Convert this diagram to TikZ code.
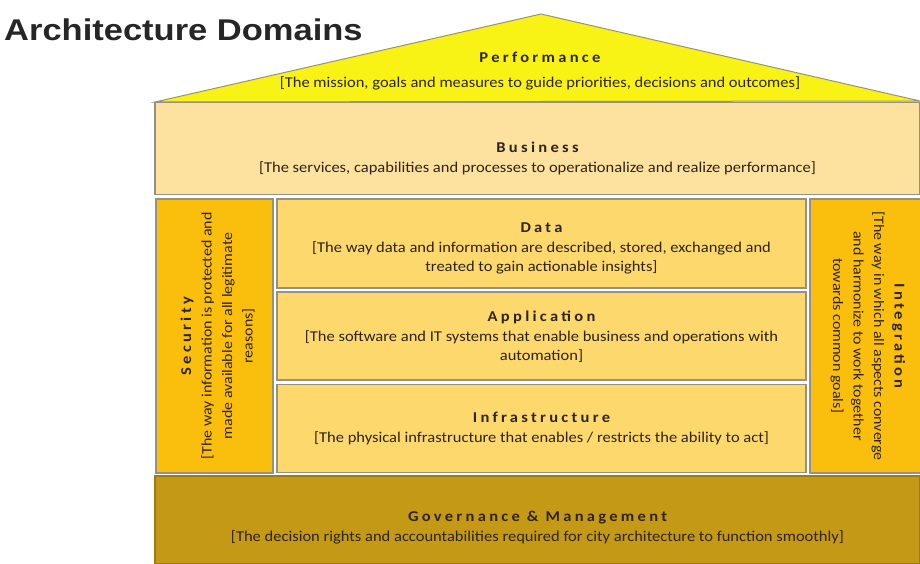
\documentclass[tikz,border=0pt]{standalone}
\usepackage{fontspec}
\setmainfont[FakeStretch=1.1]{Carlito}
\newfontfamily\headfont[FakeStretch=1.15]{Liberation Sans}
\newfontfamily\spacedfont[LetterSpace=22,FakeStretch=1.1]{Carlito}
\newcommand\ttlfont{\spacedfont\bfseries\fontsize{15}{19}\selectfont}
\usetikzlibrary{calc}
\definecolor{roofc}{RGB}{248,243,20}
\definecolor{busc}{RGB}{252,226,158}
\definecolor{midc}{RGB}{253,216,108}
\definecolor{sidec}{RGB}{250,190,12}
\definecolor{govc}{RGB}{196,153,22}
\definecolor{edgec}{RGB}{150,145,130}
\definecolor{inkc}{RGB}{45,35,25}
\tikzset{
  box/.style={rectangle, draw=edgec, line width=1.2pt, inner sep=0pt, outer sep=0pt},
  txt/.style={align=center, text=inkc, font=\fontsize{15}{19}\selectfont, inner sep=0pt},
  rtxt/.style={align=center, text=inkc, font=\fontsize{14.5}{20.5}\selectfont, inner sep=0pt},
}
\begin{document}
\begin{tikzpicture}[x=1pt,y=1pt]
\useasboundingbox (0,0) rectangle (920,-563);
% title
\node[anchor=base west, inner sep=0pt, font=\headfont\bfseries\fontsize{30}{32}\selectfont, text=black!85] (title) at (4,-40) {Architecture Domains};
% roof
\coordinate (rl) at (155,-102);
\coordinate (ra) at (541,-14);
\coordinate (rr) at (920,-101);
\draw[fill=roofc, draw=edgec, line width=1pt] (rl) -- (ra) -- (rr) -- cycle;
\node[txt] (perf) at (540,-71) {{\ttlfont Performance}\\[6pt][The mission, goals and measures to guide priorities, decisions and outcomes]};
% business
\node[box, fill=busc, minimum width=765pt, minimum height=92pt] (business) at (537.5,-148.5) {};
\node[txt] (bustext) at ($(business.center)+(0,-10)$) {{\ttlfont Business}\\[1pt][The services, capabilities and processes to operationalize and realize performance]};
% side columns
\node[box, fill=sidec, minimum width=117pt, minimum height=274pt] (security) at (214.5,-336) {};
\node[rtxt, rotate=90] (sectext) at ($(security.center)+(3,0)$) {{\ttlfont Security}\\[0pt][The way information is protected and\\made available for all legitimate\\reasons]};
\node[box, fill=sidec, minimum width=112pt, minimum height=274pt] (integration) at (866,-336) {};
\node[rtxt, rotate=-90] (inttext) at ($(integration.center)+(2,0)$) {{\ttlfont Integration}\\[0pt][The way in which all aspects converge\\and harmonize to work together\\towards common goals]};
% center stack
\node[box, fill=midc, minimum width=529pt, minimum height=89pt] (data) at (541.5,-243.5) {};
\node[txt] (datatext) at ($(data.center)+(0,-5)$) {{\ttlfont Data}\\[1pt][The way data and information are described, stored, exchanged and\\treated to gain actionable insights]};
\node[box, fill=midc, minimum width=529pt, minimum height=88pt] (application) at (541.5,-336) {};
\node[txt] (apptext) at ($(application.center)+(0,-1)$) {{\ttlfont Application}\\[1pt][The software and IT systems that enable business and operations with\\automation]};
\node[box, fill=midc, minimum width=529pt, minimum height=88pt] (infra) at (541.5,-428.5) {};
\node[txt] (infratext) at ($(infra.center)+(0,0)$) {{\ttlfont Infrastructure}\\[1pt][The physical infrastructure that enables / restricts the ability to act]};
% governance
\node[box, fill=govc, draw=govc!80!black, minimum width=765pt, minimum height=88pt] (gov) at (537.5,-520) {};
\node[txt] (govtext) at ($(gov.center)+(0,-8)$) {{\ttlfont Governance \& Management}\\[1pt][The decision rights and accountabilities required for city architecture to function smoothly]};
\end{tikzpicture}
\end{document}
